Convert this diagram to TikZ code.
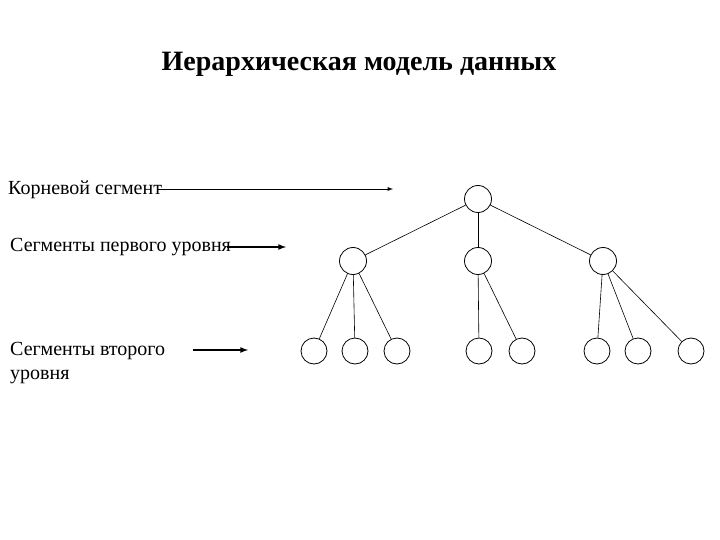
\documentclass[tikz,border=0pt]{standalone}
\usepackage{fontspec}
\setmainfont{Liberation Serif}
\tikzset{
  seg/.style = {circle, draw, thick, minimum size=27pt, inner sep=0pt},
  leaf/.style = {seg, minimum size=26pt},
  link/.style = {draw, line width=0.6pt},
  lbl/.style = {anchor=west, inner sep=0pt, font=\fontsize{20}{24}\selectfont, align=left},
  pointer/.style = {-latex, line width=1.6pt},
}

\begin{document}
\begin{tikzpicture}[x=1pt, y=-1pt]
            \useasboundingbox (0,0) rectangle (720,540);

            \node (title) at (359,64) {\fontsize{28}{32}\selectfont\bfseries Иерархическая модель данных};

            % labels on the left
            \node[lbl] (rootlbl) at (8,190) {Корневой сегмент};
            \node[lbl] (firstlbl) at (10,247) {Сегменты первого уровня};
            \node[lbl, anchor=north west] (secondlbl) at (10,342) {Сегменты второго\\уровня};

            % the tree
            \node[seg] (root) at (478,199) {};
            \node[seg] (a) at (353,261) {};
            \node[seg] (b) at (478,261) {};
            \node[seg] (c) at (603,261) {};

            \foreach \name/\x in {a1/314, a2/355, a3/397, b1/479, b2/522, c1/597, c2/638, c3/691}
                \node[leaf] (\name) at (\x,351) {};

            \draw[link] (root) -- (a);
            \draw[link] (root) -- (b);
            \draw[link] (root) -- (c);

            \foreach \kid in {a1,a2,a3} \draw[link] (a) -- (\kid);
            \foreach \kid in {b1,b2} \draw[link] (b) -- (\kid);
            \foreach \kid in {c1,c2,c3} \draw[link] (c) -- (\kid);

            % arrows from the labels
            \coordinate (r0) at (157,189);
            \coordinate (r1) at (393,189);
            \coordinate (f0) at (227,247);
            \coordinate (f1) at (286,247);
            \coordinate (s0) at (193,350);
            \coordinate (s1) at (248,350);

            \draw[-latex, line width=0.9pt] (r0) -- (r1);
            \draw[pointer] (f0) -- (f1);
            \draw[pointer] (s0) -- (s1);
        \end{tikzpicture}
\end{document}
